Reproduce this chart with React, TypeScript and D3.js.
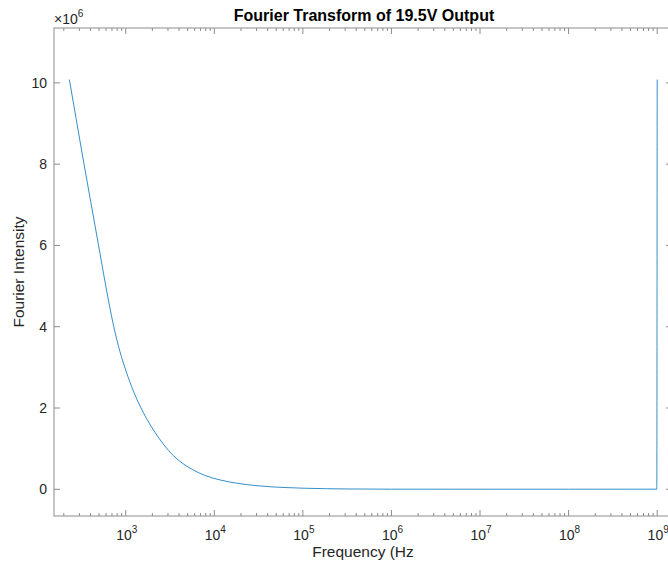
import * as d3 from 'd3';

// FFT magnitude (x in Hz, y in units of 10^6)
const freqHz = [
  231, 275, 332, 404, 491, 596, 725, 863, 1026, 1219, 1450, 1740, 2142, 2706,
  3445, 4434, 5794, 7852, 11600, 19500, 32800, 55100, 1e5, 3.4e5, 1e6, 1e7,
  1e8, 9.9e8, 999999769,
];
const intensityE6 = [
  10.08, 9.13, 8.1, 7.06, 6.03, 5.0, 4.05, 3.38, 2.86, 2.42, 2.05, 1.72, 1.4, 1.09,
  0.83, 0.63, 0.475, 0.34, 0.23, 0.138, 0.082, 0.049, 0.027, 0.008, 0.003, 0.002,
  0.002, 0.003, 10.08,
];

const xLimits = [155, 1.47e9];
const yLimits = [-0.657, 11.35];
const xMajorExp = [3, 4, 5, 6, 7, 8, 9];
const yTicks = [0, 2, 4, 6, 8, 10];

const W = 668;
const H = 564;
const left = 54;
const right = 672;
const top = 28;
const bottom = 516;
const ink = '#262626';
const axisColor = '#8c8c8c';
const font = '"Liberation Sans", Arial, Helvetica, sans-serif';

export default function App() {
  const x = d3.scaleLog().domain(xLimits).range([left, right]);
  const y = d3.scaleLinear().domain(yLimits).range([bottom, top]);

  const minor: number[] = [];
  for (let k = 2; k <= 9; k++) {
    for (let m = 2; m <= 9; m++) {
      const v = m * Math.pow(10, k);
      if (v > xLimits[0] && v < xLimits[1]) minor.push(v);
    }
  }

  const pts = freqHz.map((f, i) => [f, intensityE6[i]] as [number, number]);
  const line = d3
    .line<[number, number]>()
    .x((d) => x(d[0]))
    .y((d) => y(d[1]))
    .curve(d3.curveMonotoneX);

  return (
    <div style={{ position: 'absolute', left: 0, top: 0 }}>
      <svg width={W} height={H} style={{ display: 'block', background: '#fff' }}>
        <g fontFamily={font} fill={ink}>
          {/* frame */}
          <rect x={left} y={top} width={right - left} height={bottom - top}
            fill="none" stroke={axisColor} strokeWidth={1} />

          {/* x ticks, bottom and top, pointing inward */}
          {minor.map((v) => (
            <g key={'mn' + v} stroke={axisColor} strokeWidth={1}>
              <line x1={x(v)} x2={x(v)} y1={bottom} y2={bottom - 3} />
              <line x1={x(v)} x2={x(v)} y1={top} y2={top + 3} />
            </g>
          ))}
          {xMajorExp.map((e) => {
            const px = x(Math.pow(10, e));
            return (
              <g key={'mj' + e}>
                <line x1={px} x2={px} y1={bottom} y2={bottom - 6} stroke={axisColor} />
                <line x1={px} x2={px} y1={top} y2={top + 6} stroke={axisColor} />
                <text x={px + 1} y={540} textAnchor="middle" fontSize={14}>
                  10<tspan dy={-7} fontSize={10}>{e}</tspan>
                </text>
              </g>
            );
          })}

          {/* y ticks */}
          {yTicks.map((t) => (
            <g key={'y' + t}>
              <line x1={left} x2={left + 6} y1={y(t)} y2={y(t)} stroke={axisColor} />
              <line x1={right} x2={right - 6} y1={y(t)} y2={y(t)} stroke={axisColor} />
              <text x={47} y={y(t)} dy="0.35em" textAnchor="end" fontSize={14}>
                {t}
              </text>
            </g>
          ))}

          {/* exponent */}
          <text x={54} y={23.5} fontSize={14}>
            ×10<tspan dy={-7} fontSize={10}>6</tspan>
          </text>

          {/* data */}
          <path d={line(pts) ?? ''} fill="none" stroke="#0072BD" strokeWidth={0.8} />

          {/* labels */}
          <text x={364} y={20.5} textAnchor="middle" fontSize={16} fontWeight="bold" fill="#000">
            Fourier Transform of 19.5V Output
          </text>
          <text x={363} y={557} textAnchor="middle" fontSize={15.5}>
            Frequency (Hz
          </text>
          <text transform={`translate(24,${(top + bottom) / 2}) rotate(-90)`}
            textAnchor="middle" fontSize={15.5}>
            Fourier Intensity
          </text>
        </g>
      </svg>
    </div>
  );
}
